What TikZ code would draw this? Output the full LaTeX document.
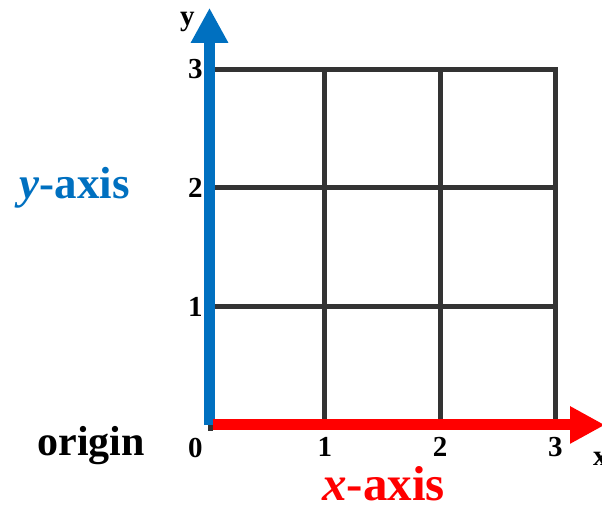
\documentclass[tikz,border=0pt]{standalone}
\usepackage{fontspec}
\setmainfont{Liberation Serif}
\usetikzlibrary{arrows.meta, positioning}
\definecolor{axisblue}{RGB}{0, 112, 192}
\definecolor{axisred}{RGB}{255, 0, 0}
\definecolor{gridgray}{RGB}{51, 51, 51}
\tikzset{
  gridline/.style={
    draw=gridgray,
    line width=5pt,
    line cap=rect
  },
  axisline/.style={
    line width=11pt,
    -{Triangle[length=35pt, width=35pt]}
  },
  ticklabel/.style={
    inner sep=0pt,
    font=\fontsize{29}{29}\selectfont\bfseries
  },
  bigname/.style={
    inner sep=0pt,
    anchor=base,
    font=\fontsize{42}{42}\selectfont\bfseries
  }
}

\begin{document}
\begin{tikzpicture}[x=115.3pt, y=118.5pt]
  \useasboundingbox (-1.817,-0.675) rectangle (3.404,3.586);

  % grid
  \foreach \i in {1,2,3} {
    \draw[gridline] (0,\i) -- (3,\i);
    \draw[gridline] (\i,0) -- (\i,3);
  }
  \fill[gridgray] (-0.017,0) rectangle (0.026,-0.05);

  % axes
  \coordinate (O) at (0,0);
  \coordinate (xstart) at (0.026,0);
  \coordinate (xtip) at (3.43,0);
  \coordinate (ytip) at (0,3.52);
  \draw[axisline, axisblue] (O) -- (ytip);
  \draw[axisline, axisred] (xstart) -- (xtip);

  % tick labels
  \foreach \i in {1,2,3} {
    \node[ticklabel] (xl\i) at (\i,-0.185) {\i};
    \node[ticklabel] (yl\i) at (-0.122,\i) {\i};
  }
  \node[ticklabel] (zero) at (-0.122,-0.194) {0};
  \node[ticklabel, anchor=base] (ylab) at (-0.191,3.367) {y};
  \node[ticklabel] (xlab) at (3.39,-0.286) {x};

  % axis names
  \node[bigname] (origin) at (-1.026,-0.261) {origin};
  \node[bigname, text=axisblue, font=\fontsize{45}{45}\selectfont\bfseries] (yname) at (-1.17,1.907) {\textit{y}-axis};
  \node[bigname, text=axisred, font=\fontsize{49}{49}\selectfont\bfseries] (xname) at (1.509,-0.641) {\textit{x}-axis};
\end{tikzpicture}
\end{document}
